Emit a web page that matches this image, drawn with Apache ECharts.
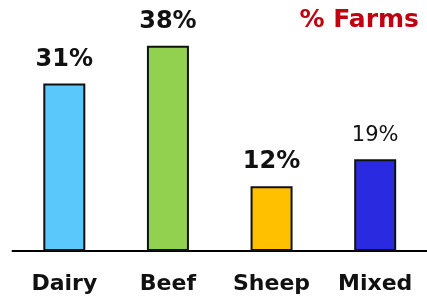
<!DOCTYPE html>
<html>
<head>
<meta charset="utf-8">
<style>
html,body{margin:0;padding:0;background:#fff;}
#chart{width:427px;height:299px;}
</style>
<script src="https://cdn.jsdelivr.net/npm/echarts@6/dist/echarts.min.js"></script>
</head>
<body>
<div id="chart"></div>
<script>
const categories = ["Dairy", "Beef", "Sheep", "Mixed"];
const barHeights = [31, 38, 12, 17];
const labelTexts = ["31%", "38%", "12%", "19%"];
const barColors = ["#5ac8fa", "#92d050", "#ffc000", "#2a2ae0"];
const titleText = "% Farms";

const chart = echarts.init(document.getElementById('chart'));
const font = "DejaVu Sans";
chart.setOption({
  animation: false,
  backgroundColor: '#ffffff',
  title: {
    text: titleText,
    right: 8, top: 8, padding: 0,
    textStyle: {color: '#c00010', fontFamily: font, fontWeight: 'bold', fontSize: 25}
  },
  grid: {left: 12.5, right: -4.7, top: 35, bottom: 48, containLabel: false},
  xAxis: {
    type: 'category',
    data: categories,
    axisLine: {lineStyle: {color: '#000', width: 2}},
    axisTick: {show: false},
    axisLabel: {color: '#111', fontFamily: font, fontWeight: 'bold', fontSize: 22, margin: 22}
  },
  yAxis: {type: 'value', min: 0, max: 40, show: false, splitLine: {show: false}},
  series: [{
    type: 'bar',
    barWidth: 42,
    data: barHeights.map((v, i) => ({
      value: v,
      itemStyle: {color: barColors[i], borderColor: '#111', borderWidth: 2},
      label: i === 3 ? {fontWeight: 'normal', fontSize: 21, distance: 13} : {}
    })),
    label: {
      show: true, position: 'top', distance: 12,
      formatter: p => labelTexts[p.dataIndex],
      color: '#111', fontFamily: font, fontWeight: 'bold', fontSize: 24
    }
  }]
});
</script>
</body>
</html>
